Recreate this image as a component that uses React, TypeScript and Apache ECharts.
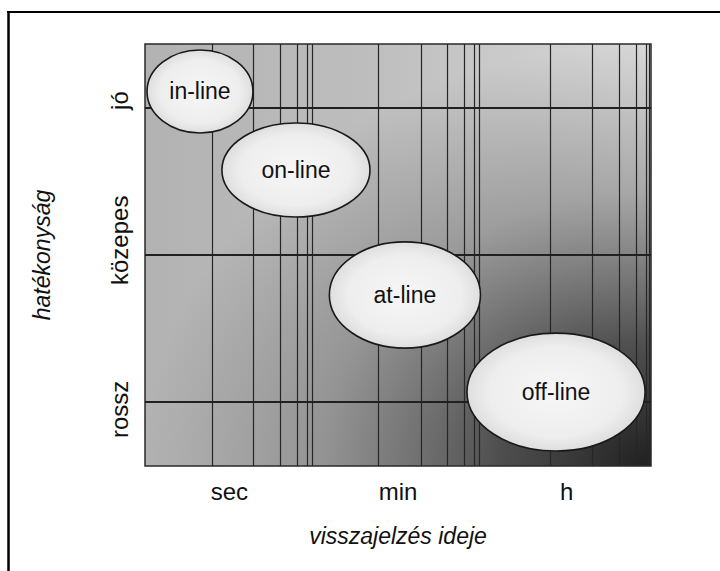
import { useEffect, useRef } from "react";
import * as echarts from "echarts";

// ---- data ----
const timeLabels = ["sec", "min", "h"];
const timeLabelPositions = [0.5, 1.5, 2.5];
const qualityLabels = ["rossz", "közepes", "jó"];
const qualityLabelPositions = [0.95, 2.1, 3.05];
const qualityLevels = [1, 2, 3];
const timeGridLines = [
  0.4, 0.64, 0.8, 0.9, 0.96, 0.99,
  1.38, 1.64, 1.79, 1.89, 1.95, 1.98,
  2.4, 2.65, 2.81, 2.91, 2.97, 2.99,
];
const methodNames = ["in-line", "on-line", "at-line", "off-line"];
const methodTime = [0.326, 0.895, 1.541, 2.437];
const methodQuality = [3.112, 2.578, 1.728, 1.068];
const methodTimeSpread = [0.314, 0.439, 0.448, 0.528];
const methodQualitySpread = [0.282, 0.32, 0.361, 0.401];

const X_MIN = 0;
const X_MAX = 3;
const Y_MIN = 0.565;
const Y_MAX = 3.435;

const FONT = "'Liberation Sans', Arial, Helvetica, sans-serif";

export default function App() {
  const ref = useRef<HTMLDivElement>(null);

  useEffect(() => {
    if (!ref.current) return;
    const chart = echarts.init(ref.current, undefined, { renderer: "svg" });

    const ellipseData = methodNames.map((n, i) => [
      methodTime[i],
      methodQuality[i],
      methodTimeSpread[i],
      methodQualitySpread[i],
      n,
    ]);

    const option: any = {
      animation: false,
      backgroundColor: "#ffffff",
      grid: {
        left: 145,
        top: 44,
        width: 506,
        height: 422,
        show: true,
        borderWidth: 0,
        backgroundColor: new echarts.graphic.LinearGradient(0, 0, 1, 0, [
          { offset: 0, color: "#b2b2b2" },
          { offset: 0.45, color: "#bebebe" },
          { offset: 1, color: "#d8d8d8" },
        ]),
      },
      xAxis: {
        type: "value",
        min: X_MIN,
        max: X_MAX,
        name: "visszajelzés ideje",
        nameLocation: "middle",
        nameGap: 58,
        nameTextStyle: {
          fontFamily: FONT,
          fontSize: 23,
          fontStyle: "italic",
          color: "#111",
        },
        axisLine: { show: false },
        axisTick: { show: false },
        splitLine: { show: false },
        axisLabel: {
          customValues: timeLabelPositions,
          formatter: (v: number) => {
            const idx = timeLabelPositions.findIndex((p) => Math.abs(p - v) < 1e-6);
            return idx >= 0 ? timeLabels[idx] : "";
          },
          fontFamily: FONT,
          fontSize: 24,
          color: "#111",
          margin: 13,
        },
      },
      yAxis: {
        type: "value",
        min: Y_MIN,
        max: Y_MAX,
        name: "hatékonyság",
        nameLocation: "middle",
        nameRotate: 90,
        nameGap: 92,
        nameTextStyle: {
          fontFamily: FONT,
          fontSize: 23,
          fontStyle: "italic",
          color: "#111",
        },
        axisLine: { show: false },
        axisTick: { show: false },
        splitLine: { show: false },
        axisLabel: {
          customValues: qualityLabelPositions,
          rotate: 90,
          formatter: (v: number) => {
            const idx = qualityLabelPositions.findIndex((p) => Math.abs(p - v) < 1e-6);
            return idx >= 0 ? qualityLabels[idx] : "";
          },
          fontFamily: FONT,
          fontSize: 24,
          color: "#111",
          margin: 14,
        },
      },
      graphic: [
        {
          type: "line",
          shape: { x1: 7, y1: 12, x2: 720, y2: 12 },
          style: { stroke: "#000", lineWidth: 2 },
          silent: true,
        },
        {
          type: "line",
          shape: { x1: 8.5, y1: 11, x2: 8.5, y2: 571 },
          style: { stroke: "#000", lineWidth: 2.5 },
          silent: true,
        },
      ],
      series: [
        {
          type: "line",
          data: [],
          z: 1,
          silent: true,
          markArea: {
            silent: true,
            z: 1,
            itemStyle: {
              color: new echarts.graphic.RadialGradient(1, 1, 1, [
                { offset: 0, color: "rgba(22,22,22,0.95)" },
                { offset: 0.3, color: "rgba(30,30,30,0.72)" },
                { offset: 0.65, color: "rgba(45,45,45,0.28)" },
                { offset: 1, color: "rgba(50,50,50,0)" },
              ]),
              borderColor: "#2a2a2a",
              borderWidth: 1.5,
            },
            data: [[{ coord: [X_MIN, Y_MIN] }, { coord: [X_MAX, Y_MAX] }]],
          },
        },
        {
          type: "line",
          data: [],
          z: 2,
          silent: true,
          markLine: {
            silent: true,
            z: 2,
            symbol: ["none", "none"],
            label: { show: false },
            lineStyle: { color: "#262626", width: 1.2, type: "solid" },
            data: [
              ...timeGridLines.map((x) => ({ xAxis: x })),
              ...qualityLevels.map((y) => ({
                yAxis: y,
                lineStyle: { color: "#202020", width: 1.8, type: "solid" },
              })),
            ],
          },
        },
        {
          type: "custom",
          z: 20,
          silent: true,
          data: ellipseData,
          renderItem: (params: any, api: any) => {
            const c = api.coord([api.value(0), api.value(1)]);
            const s = api.size([api.value(2), api.value(3)]);
            const label = methodNames[params.dataIndex];
            return {
              type: "group",
              children: [
                {
                  type: "ellipse",
                  shape: { cx: c[0], cy: c[1], rx: s[0], ry: s[1] },
                  style: {
                    fill: new echarts.graphic.RadialGradient(0.5, 0.5, 0.5, [
                      { offset: 0, color: "#f6f6f6" },
                      { offset: 0.75, color: "#eeeeee" },
                      { offset: 1, color: "#dedede" },
                    ]),
                    stroke: "#1a1a1a",
                    lineWidth: 1.6,
                  },
                },
                {
                  type: "text",
                  style: {
                    text: label,
                    x: c[0],
                    y: c[1],
                    align: "center",
                    verticalAlign: "middle",
                    fontFamily: FONT,
                    fontSize: 23,
                    fill: "#111",
                  },
                },
              ],
            };
          },
        },
      ],
    };

    chart.setOption(option);
    return () => chart.dispose();
  }, []);

  return (
    <div
      ref={ref}
      style={{ position: "fixed", left: 0, top: 0, width: 720, height: 571 }}
    />
  );
}
